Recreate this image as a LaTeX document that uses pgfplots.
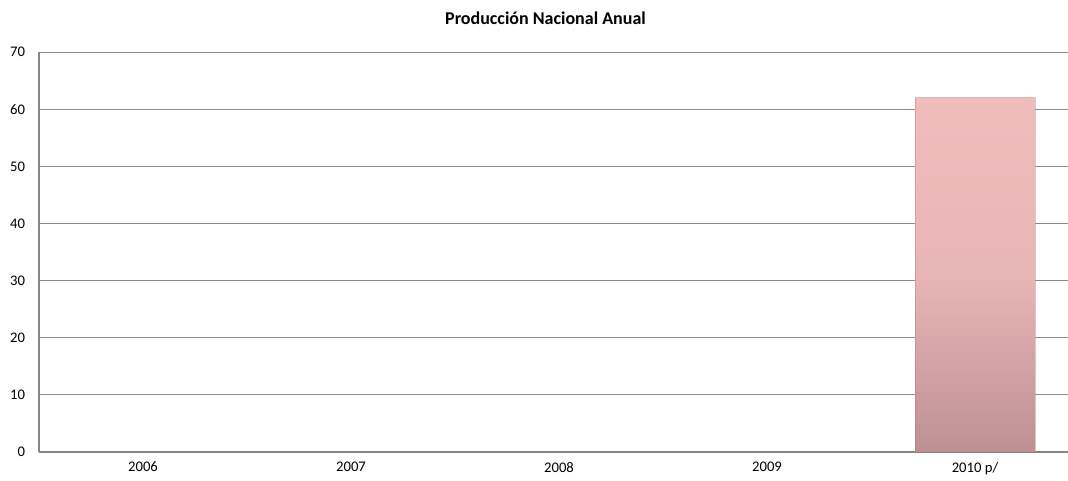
\documentclass[border=0pt]{standalone}
\usepackage{pgfplots}
\pgfplotsset{compat=1.18}
\usepackage{fontspec}
\setmainfont{Carlito}
\definecolor{gridc}{RGB}{140,140,140}
\definecolor{axisc}{RGB}{134,134,134}
\definecolor{bartop}{RGB}{240,188,188}
\definecolor{barbot}{RGB}{190,144,148}
\begin{document}
\begin{tikzpicture}
\path[use as bounding box] (-29.25pt,-21pt) rectangle (771.75pt,339pt);
\begin{axis}[
  at={(0,0)}, anchor=south west,
  scale only axis,
  width=780pt, height=300pt,
  xmin=-0.5, xmax=4.5,
  ymin=0, ymax=70,
  ytick={0,10,...,70},
  xtick={0,1,2,3,4},
  xticklabels={2006,2007,2008,2009,2010 p/},
  axis x line*=bottom,
  axis y line*=left,
  axis line style={axisc, line width=1.5pt, -},
  ymajorgrids,
  grid style={gridc, line width=0.75pt},
  major tick length=0pt,
  tick style={draw=none},
  ticklabel style={font=\fontsize{11}{13}\selectfont},
  /pgf/number format/assume math mode=true,
  yticklabel style={xshift=-7pt},
  xticklabel style={yshift=-4pt},
  ybar, bar width=90pt,
  clip=false,
]
\addplot[draw=barbot!80!black, draw opacity=0.35, top color=bartop, bottom color=barbot, middle color=bartop!85!barbot] coordinates {(0,0) (1,0) (2,0) (3,0) (4,62)};
\node[font=\fontsize{13.5}{15}\selectfont\bfseries] at (rel axis cs:0.487,1.085) {Producción Nacional Anual};
\end{axis}
\end{tikzpicture}
\end{document}
